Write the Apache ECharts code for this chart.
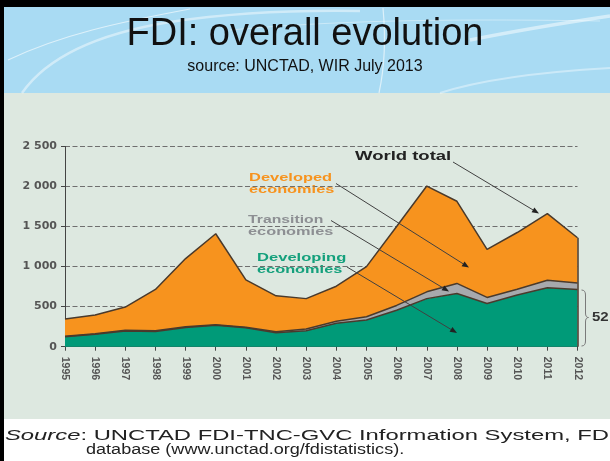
<!DOCTYPE html>
<html>
<head>
<meta charset="utf-8">
<script src="https://cdn.jsdelivr.net/npm/echarts@6/dist/echarts.min.js"></script>
<style>
html,body{margin:0;padding:0;background:#fff;}
#wrap{position:relative;width:610px;height:461px;background:#fff;overflow:hidden;}
.bg{position:absolute;}
#c{position:absolute;left:0;top:0;width:610px;height:461px;}
</style>
</head>
<body>
<div id="wrap">
  <div class="bg" style="left:0;top:0;width:610px;height:7px;background:#000"></div>
  <div class="bg" style="left:0;top:0;width:4px;height:461px;background:#000"></div>
  <div class="bg" style="left:4px;top:7px;width:606px;height:86px;background:#a9dbf3"></div>
  <div class="bg" style="left:4px;top:93px;width:606px;height:326px;background:#dde8e0"></div>
  <div id="c"></div>
</div>
<script>
// ---- data (billions of US$) ----
const years = ['1995','1996','1997','1998','1999','2000','2001','2002','2003','2004','2005','2006','2007','2008','2009','2010','2011','2012'];
const developing = [125,155,195,190,240,268,235,175,200,292,334,455,600,665,540,645,735,715];
const transition = [5,6,10,8,8,7,9,11,20,25,40,60,85,125,75,72,95,80];
const developed  = [215,234,290,517,852,1135,591,449,380,438,626,985,1320,1025,600,708,830,565];
const yTicks = [0,500,1000,1500,2000,2500];

const lastIdx = years.length - 1;
const lastTotal = developing[lastIdx] + transition[lastIdx] + developed[lastIdx];

const dark = '#4a3a2c';
function fmt(v){
  if (v >= 1000) return Math.floor(v/1000) + ' ' + String(v % 1000).padStart(3,'0');
  return String(v);
}

function arrow(x1,y1,x2,y2){
  const dx=x2-x1, dy=y2-y1, L=Math.hypot(dx,dy), ux=dx/L, uy=dy/L;
  const hl=7, hw=2.8;
  const bx=x2-ux*hl, by=y2-uy*hl;
  return [
    {type:'line', z:100, silent:true, shape:{x1:x1,y1:y1,x2:bx,y2:by}, style:{stroke:'#404040', lineWidth:1}},
    {type:'polygon', z:100, silent:true, shape:{points:[[x2,y2],[bx-uy*hw,by+ux*hw],[bx+uy*hw,by-ux*hw]]}, style:{fill:'#222'}}
  ];
}
function label(x,y,text,color,size,sx){
  return {type:'text', z:100, silent:true, x:x, y:y, scaleX:sx,
    style:{text:text, fill:color, font:'bold '+size+'px "Liberation Sans", Arial, sans-serif', align:'left', verticalAlign:'middle'}};
}
function bez(x1,y1,cx1,cy1,cx2,cy2,x2,y2,stroke,w,z){
  const shape = {x1:x1,y1:y1,cpx1:cx1,cpy1:cy1,x2:x2,y2:y2};
  if (cx2 !== null) { shape.cpx2 = cx2; shape.cpy2 = cy2; }
  return {type:'bezierCurve', z:(z===undefined?100:z), silent:true, shape:shape, style:{fill:null, stroke:stroke, lineWidth:w}};
}
function wc(a){ return 'rgba(255,255,255,'+a+')'; }
function seg(x1,y1,x2,y2,stroke,w){
  return {type:'line', z:100, silent:true, shape:{x1:x1,y1:y1,x2:x2,y2:y2}, style:{stroke:stroke, lineWidth:w}};
}

const brace = '#7a7a7a';
const graphics = [
  bez(8,60, 60,35, 120,22, 190,9, wc(0.6), 1.2, -1),
  bez(22,93, 45,60, 90,35, 170,22, wc(0.45), 2.5, -1),
  bez(170,22, 230,13, 300,10, 360,11, wc(0.45), 2.5, -1),
  bez(383,8, 386,40, 384,70, 379,93, wc(0.6), 1.2, -1),
  bez(470,40, 520,30, 570,22, 610,16, wc(0.5), 3.5, -1),
  bez(440,93, 480,80, 540,72, 610,68, wc(0.4), 2, -1),
  bez(230,30, 320,22, 420,18, 600,21, wc(0.4), 1, -1),
  label(355,156.5,'World total','#222',12.5,1.48),
  label(249,177.5,'Developed','#f7931e',11.5,1.43),
  label(249,190,'economies','#f7931e',11.5,1.42),
  label(248,220,'Transition','#8d8f93',11.5,1.37),
  label(248,232,'economies','#8d8f93',11.5,1.42),
  label(257,257.5,'Developing','#14a07c',11.5,1.44),
  label(257,270,'economies','#14a07c',11.5,1.42),
  ...arrow(453,162,539,213.5),
  ...arrow(336,183.5,469,267.5),
  ...arrow(331,220.5,449,291.5),
  ...arrow(347,267,457,333),
  bez(581.5,290, 585.5,290, null,null, 585.5,295, brace, 1),
  seg(585.5,295, 585.5,313, brace, 1),
  bez(585.5,313, 585.5,317.5, null,null, 588.5,317.5, brace, 1),
  bez(588.5,317.5, 585.5,317.5, null,null, 585.5,322, brace, 1),
  seg(585.5,322, 585.5,341, brace, 1),
  bez(585.5,341, 585.5,346, null,null, 581.5,346, brace, 1),
  label(592,317.5,'52','#333',12,1.25),
  {type:'text', z:100, silent:true, x:5, y:436, scaleX:1.7,
    style:{text:'{i|Source}: UNCTAD FDI-TNC-GVC Information System, FDI', fill:'#222',
      font:'14px "Liberation Sans", Arial, sans-serif', verticalAlign:'middle', align:'left',
      rich:{i:{fontStyle:'italic', fontSize:14, fontFamily:'"Liberation Sans", Arial, sans-serif', fill:'#222'}}}},
  {type:'text', z:100, silent:true, x:86, y:450, scaleX:1.29,
    style:{text:'database (www.unctad.org/fdistatistics).', fill:'#222',
      font:'14px "Liberation Sans", Arial, sans-serif', verticalAlign:'middle', align:'left'}}
];

const chart = echarts.init(document.getElementById('c'), null, {renderer:'canvas'});
chart.setOption({
  animation:false,
  backgroundColor:'transparent',
  title:{
    text:'FDI: overall evolution',
    subtext:'source: UNCTAD, WIR July 2013',
    left:'center', top:11, itemGap:5, z:10,
    textStyle:{fontFamily:'"Liberation Sans", Arial, sans-serif', fontSize:38, fontWeight:'normal', color:'#111'},
    subtextStyle:{fontFamily:'"Liberation Sans", Arial, sans-serif', fontSize:16, color:'#111'}
  },
  grid:{left:65, right:32.5, top:146.4, bottom:114.3, containLabel:false},
  xAxis:{
    type:'category', data:years, boundaryGap:false,
    axisLine:{lineStyle:{color:'#444', width:1}},
    axisTick:{show:true, length:4, lineStyle:{color:'#444'}},
    axisLabel:{rotate:-90, margin:10, fontFamily:'"Liberation Sans", Arial, sans-serif', fontWeight:'bold', fontSize:10.5, color:'#555', interval:0},
    splitLine:{show:false}
  },
  yAxis:{
    type:'value', min:yTicks[0], max:yTicks[yTicks.length-1], interval:yTicks[1]-yTicks[0],
    axisLine:{show:true, lineStyle:{color:'#444', width:1}},
    axisTick:{show:true, length:4, lineStyle:{color:'#444'}},
    axisLabel:{margin:8, formatter:fmt, fontFamily:'"DejaVu Sans", sans-serif', fontWeight:'bold', fontSize:11, color:'#555'},
    splitLine:{show:true, lineStyle:{color:'#6f6f6f', width:1, type:[5,2.5]}}
  },
  series:[
    {name:'Developing economies', type:'line', stack:'total', data:developing, symbol:'none',
      lineStyle:{color:dark, width:1.5}, areaStyle:{color:'#009a78', opacity:1}},
    {name:'Transition economies', type:'line', stack:'total', data:transition, symbol:'none',
      lineStyle:{color:dark, width:1.5}, areaStyle:{color:'#a7a9ad', opacity:1}},
    {name:'Developed economies', type:'line', stack:'total', data:developed, symbol:'none',
      lineStyle:{color:dark, width:1.5}, areaStyle:{color:'#f7931e', opacity:1},
      markLine:{silent:true, symbol:'none', label:{show:false},
        lineStyle:{color:dark, width:1.5, type:'solid'},
        data:[[{coord:[years[lastIdx],0]},{coord:[years[lastIdx],lastTotal]}]]}}
  ],
  graphic:graphics
});
</script>
</body>
</html>
